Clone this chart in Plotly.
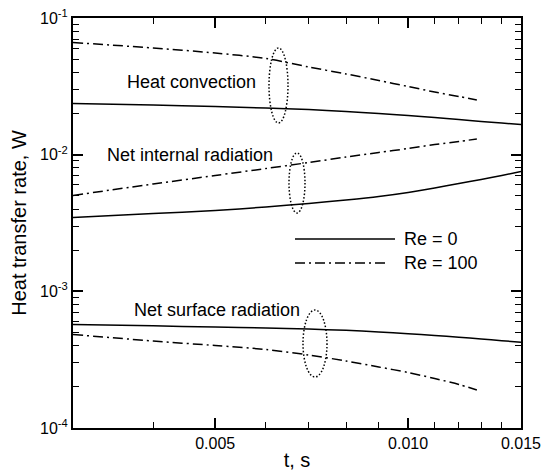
import plotly.graph_objects as go

# ---- data ----
t_full = [0.003, 0.004, 0.005, 0.006, 0.007, 0.008, 0.009, 0.010, 0.011, 0.012, 0.013, 0.014, 0.015]
t_re100 = [0.003, 0.004, 0.005, 0.006, 0.007, 0.008, 0.009, 0.010, 0.011, 0.012, 0.0128]

conv_re0 = [0.02368, 0.02309, 0.02251, 0.02195, 0.02141, 0.02070, 0.02001, 0.01935,
            0.01870, 0.01808, 0.01749, 0.01705, 0.01663]
conv_re100 = [0.06617, 0.06033, 0.05546, 0.05053, 0.04379, 0.03894, 0.03489, 0.03154,
              0.02874, 0.02665, 0.02512]

intrad_re0 = [0.003469, 0.003711, 0.003903, 0.004141, 0.004393, 0.004660, 0.004943,
              0.005288, 0.005705, 0.006152, 0.006579, 0.007040, 0.007531]
intrad_re100 = [0.005028, 0.006101, 0.007040, 0.007918, 0.008763, 0.009614, 0.010373,
                0.011097, 0.011869, 0.012486, 0.013024]

surf_re0 = [0.0005720, 0.0005590, 0.0005484, 0.0005392, 0.0005295, 0.0005180, 0.0005040,
            0.0004900, 0.0004760, 0.0004620, 0.0004480, 0.0004355, 0.0004242]
surf_re100 = [0.0004833, 0.0004329, 0.0004015, 0.0003753, 0.0003421, 0.0003092, 0.0002795,
              0.0002547, 0.0002303, 0.0002082, 0.0001897]

x_tickvals = [0.005, 0.010, 0.015]
x_ticktext = ["0.005", "0.010", "0.015"]
x_minor = [0.004, 0.006, 0.007, 0.008, 0.009, 0.011, 0.012, 0.013, 0.014]
y_tickvals = [1e-4, 1e-3, 1e-2, 1e-1]
y_ticktext = ["10<sup>-4</sup>", "10<sup>-3</sup>", "10<sup>-2</sup>", "10<sup>-1</sup>"]
y_minor = [m * d for d in (1e-4, 1e-3, 1e-2) for m in range(2, 10)]

DASHDOT = "10px,4px,2px,4px"
FONT = "Liberation Sans, Arial, sans-serif"

fig = go.Figure()
for ys, tt, dash in [
    (conv_re0, t_full, "solid"), (conv_re100, t_re100, DASHDOT),
    (intrad_re0, t_full, "solid"), (intrad_re100, t_re100, DASHDOT),
    (surf_re0, t_full, "solid"), (surf_re100, t_re100, DASHDOT),
]:
    fig.add_trace(go.Scatter(x=tt, y=ys, mode="lines", showlegend=False,
                             line=dict(color="black", width=1.5, dash=dash,
                                       shape="spline", smoothing=0.8)))

L, R, T, B = 73, 20, 18, 47
W, H = 541, 475
pw, ph = W - L - R, H - T - B


def px(x):
    return (x - L) / pw


def py(y):
    return (H - B - y) / ph


shapes = []
# dotted ellipses grouping the curve pairs
for x0, x1, y0, y1 in [(269, 288, 48, 123), (289, 305, 153, 213), (303, 327, 310, 377)]:
    shapes.append(dict(type="circle", xref="paper", yref="paper",
                       x0=px(x0), x1=px(x1), y0=py(y1), y1=py(y0),
                       line=dict(color="black", width=1.5, dash="1.5px,2px")))
# legend key lines
shapes.append(dict(type="line", xref="paper", yref="paper", x0=px(295), x1=px(395),
                   y0=py(239), y1=py(239), line=dict(color="black", width=1.5)))
shapes.append(dict(type="line", xref="paper", yref="paper", x0=px(295), x1=px(388),
                   y0=py(263), y1=py(263), line=dict(color="black", width=1.5, dash=DASHDOT)))

annos = []
for text, x, y in [("Heat convection", 125, 82), ("Net internal radiation", 105, 155),
                   ("Net surface radiation", 132, 310), ("Re = 0", 402, 239),
                   ("Re = 100", 402, 263)]:
    annos.append(dict(text=text, xref="paper", yref="paper", x=px(x), y=py(y),
                      xanchor="left", yanchor="middle", showarrow=False,
                      font=dict(size=18, color="black", family=FONT)))

axis_common = dict(showgrid=False, zeroline=False, showline=True, linecolor="black",
                   linewidth=2, mirror="ticks", ticks="inside", ticklen=10,
                   tickwidth=1.5, tickcolor="black", automargin=False,
                   tickfont=dict(size=16, color="black", family=FONT))

fig.update_layout(
    width=W, height=H, margin=dict(l=L, r=R, t=T, b=B, autoexpand=False),
    plot_bgcolor="white", paper_bgcolor="white",
    shapes=shapes, annotations=annos,
    xaxis=dict(type="log", range=[-2.52288, -1.82389], tickmode="array",
               tickvals=x_tickvals, ticktext=x_ticktext, ticklabeloverflow="allow",
               minor=dict(tickmode="array", tickvals=x_minor, ticks="inside",
                          ticklen=6, tickwidth=1.2, tickcolor="black"),
               title=dict(text="t, s", standoff=2,
                          font=dict(size=20, color="black", family=FONT)),
               **axis_common),
    yaxis=dict(type="log", range=[-4, -1], tickmode="array",
               tickvals=y_tickvals, ticktext=y_ticktext,
               minor=dict(tickmode="array", tickvals=y_minor, ticks="inside",
                          ticklen=6, tickwidth=1.2, tickcolor="black"),
               title=dict(text="Heat transfer rate, W", standoff=8,
                          font=dict(size=20, color="black", family=FONT)),
               **axis_common),
)

fig.write_html("out.html")
